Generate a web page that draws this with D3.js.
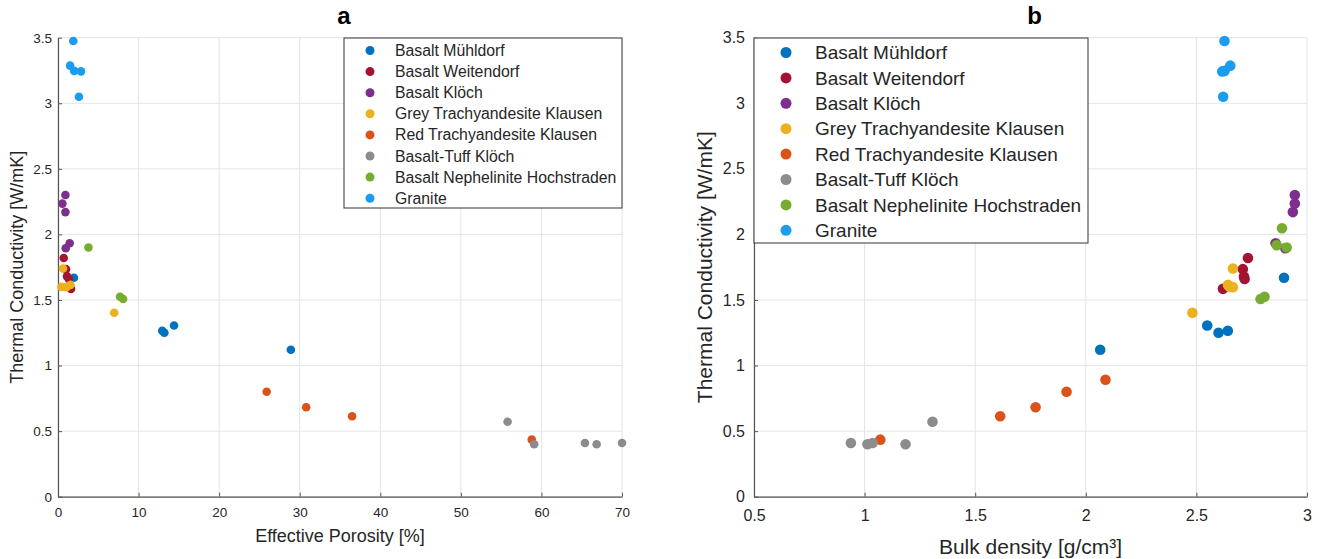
<!DOCTYPE html>
<html>
<head>
<meta charset="utf-8">
<script src="https://d3js.org/d3.v7.min.js"></script>
<style>
  body { margin: 0; background: #fff; }
  text { font-family: "Liberation Sans", Arial, Helvetica, sans-serif; }
</style>
</head>
<body>
<div id="chart"></div>
<script>
// rows: [effective porosity %, bulk density g/cm3, thermal conductivity W/mK]
// null = point not shown in that panel
var basaltMuehldorf = [[1.98, 2.896, 1.67], [13.2, 2.60, 1.25], [12.94, 2.642, 1.265], [14.4, 2.549, 1.305], [28.9, 2.065, 1.12]];
var basaltWeitendorf = [[0.71, 2.733, 1.82], [1.0, 2.71, 1.735], [1.12, 2.715, 1.68], [1.35, 2.718, 1.66], [1.62, 2.62, 1.585]];
var basaltKloech = [[0.92, 2.945, 2.30], [0.55, 2.945, 2.235], [0.92, 2.936, 2.17], [1.45, 2.858, 1.933], [0.96, 2.902, 1.895]];
var greyTrachy = [[0.62, 2.665, 1.74], [1.54, 2.643, 1.615], [1.04, 2.665, 1.598], [0.42, 2.65, 1.60], [6.98, 2.482, 1.403]];
var redTrachy = [[58.8, 1.071, 0.435], [36.5, 1.613, 0.613], [30.8, 1.773, 0.682], [25.9, 1.913, 0.80], [null, 2.089, 0.892]];
var basaltTuff = [[55.8, 1.307, 0.572], [59.1, 1.185, 0.40], [65.4, 1.036, 0.41], [66.85, 1.013, 0.40], [70.0, 0.938, 0.41]];
var nephelinite = [[3.78, 2.908, 1.90], [null, 2.887, 2.047], [null, 2.863, 1.918], [7.7, 2.808, 1.525], [8.08, 2.79, 1.508]];
var granite = [[1.9, 2.627, 3.475], [1.5, 2.653, 3.287], [2.0, 2.627, 3.247], [2.85, 2.617, 3.243], [2.6, 2.621, 3.05]];

var names = ["Basalt Mühldorf", "Basalt Weitendorf", "Basalt Klöch", "Grey Trachyandesite Klausen",
  "Red Trachyandesite Klausen", "Basalt-Tuff Klöch", "Basalt Nephelinite Hochstraden", "Granite"];
var colors = ["#0072bd", "#a2142f", "#7e2f8e", "#edb120", "#d95319", "#8c8c8c", "#77ac30", "#1a9cef"];
var rows = [basaltMuehldorf, basaltWeitendorf, basaltKloech, greyTrachy, redTrachy, basaltTuff, nephelinite, granite];

var yTicks = [0, 0.5, 1, 1.5, 2, 2.5, 3, 3.5];
var porosityTicks = [0, 10, 20, 30, 40, 50, 60, 70];
var densityTicks = [0.5, 1, 1.5, 2, 2.5, 3];

var series = names.map(function(n, i) { return {name: n, color: colors[i], rows: rows[i]}; });

var svg = d3.select("#chart")
  .append("svg")
    .attr("width", 1323)
    .attr("height", 559);

function drawPanel(p) {
  var x = d3.scaleLinear().domain([p.xTicks[0], p.xTicks[p.xTicks.length - 1]]).range([p.left, p.right]);
  var y = d3.scaleLinear().domain([0, 3.5]).range([p.bottom, p.top]);
  var g = svg.append("g");

  // grid
  g.append("g").selectAll("line").data(p.xTicks).join("line")
    .attr("x1", function(d) { return x(d); }).attr("x2", function(d) { return x(d); })
    .attr("y1", p.top).attr("y2", p.bottom)
    .attr("stroke", "#e4e4e4").attr("stroke-width", 1);
  g.append("g").selectAll("line").data(yTicks).join("line")
    .attr("x1", p.left).attr("x2", p.right)
    .attr("y1", function(d) { return y(d); }).attr("y2", function(d) { return y(d); })
    .attr("stroke", "#e4e4e4").attr("stroke-width", 1);

  // axes
  var xAxis = g.append("g")
    .attr("transform", "translate(0," + p.bottom + ")")
    .call(d3.axisBottom(x).tickValues(p.xTicks).tickFormat(d3.format("~g"))
      .tickSizeInner(-4).tickSizeOuter(0).tickPadding(p.xPad));
  var yAxis = g.append("g")
    .attr("transform", "translate(" + p.left + ",0)")
    .call(d3.axisLeft(y).tickValues(yTicks).tickFormat(d3.format("~g"))
      .tickSizeInner(-4).tickSizeOuter(0).tickPadding(p.yPad));
  [xAxis, yAxis].forEach(function(a) {
    a.select(".domain").attr("stroke", "#555").attr("stroke-width", 1.2);
    a.selectAll(".tick line").attr("stroke", "#555");
    a.selectAll(".tick text").attr("fill", "#262626").style("font-size", p.tickFont + "px");
  });

  // points
  series.forEach(function(s) {
    g.append("g").selectAll("circle")
      .data(s.rows.filter(function(r) { return r[p.col] !== null; }))
      .join("circle")
        .attr("cx", function(r) { return x(r[p.col]); })
        .attr("cy", function(r) { return y(r[2]); })
        .attr("r", p.r)
        .attr("fill", s.color);
  });

  // title
  svg.append("text")
    .attr("x", (p.left + p.right) / 2 + 4).attr("y", 24)
    .attr("text-anchor", "middle")
    .style("font-size", "24px").style("font-weight", "bold")
    .text(p.title);

  // axis labels
  svg.append("text")
    .attr("x", (p.left + p.right) / 2).attr("y", p.xLabelY)
    .attr("text-anchor", "middle").attr("fill", "#262626")
    .style("font-size", p.labelFont + "px")
    .text(p.xLabel);
  svg.append("text")
    .attr("transform", "translate(" + p.yLabelX + "," + (p.top + p.bottom) / 2 + ") rotate(-90)")
    .attr("text-anchor", "middle").attr("fill", "#262626")
    .style("font-size", p.labelFont + "px")
    .text("Thermal Conductivity [W/mK]");

  // legend
  var L = p.legend;
  var lg = svg.append("g");
  lg.append("rect")
    .attr("x", L.x).attr("y", L.y).attr("width", L.w).attr("height", L.h)
    .attr("fill", "#fff").attr("stroke", "#333").attr("stroke-width", 1);
  series.forEach(function(s, i) {
    var cy = L.y + L.first + i * L.step;
    lg.append("circle").attr("cx", L.x + L.dot).attr("cy", cy).attr("r", L.r).attr("fill", s.color);
    lg.append("text").attr("x", L.x + L.text).attr("y", cy).attr("dy", "0.35em")
      .attr("fill", "#262626").style("font-size", L.font + "px").text(s.name);
  });
}

drawPanel({
  title: "a", col: 0, xTicks: porosityTicks,
  left: 58, right: 622, top: 37.7, bottom: 496.7,
  xPad: 11, yPad: 6, tickFont: 13.5, labelFont: 18, r: 4.3,
  xLabel: "Effective Porosity [%]", xLabelY: 542, yLabelX: 23,
  legend: {x: 344, y: 38, w: 278, h: 170, first: 12.5, step: 21.1, dot: 26, text: 51, r: 4.5, font: 15.8}
});

drawPanel({
  title: "b", col: 1, xTicks: densityTicks,
  left: 754, right: 1307, top: 37.7, bottom: 496.7,
  xPad: 13, yPad: 9, tickFont: 16, labelFont: 21, r: 5.3,
  xLabel: "Bulk density [g/cm³]", xLabelY: 554, yLabelX: 712,
  legend: {x: 754, y: 38, w: 334, h: 205, first: 14.5, step: 25.4, dot: 32, text: 61, r: 5.5, font: 19}
});
</script>
</body>
</html>
